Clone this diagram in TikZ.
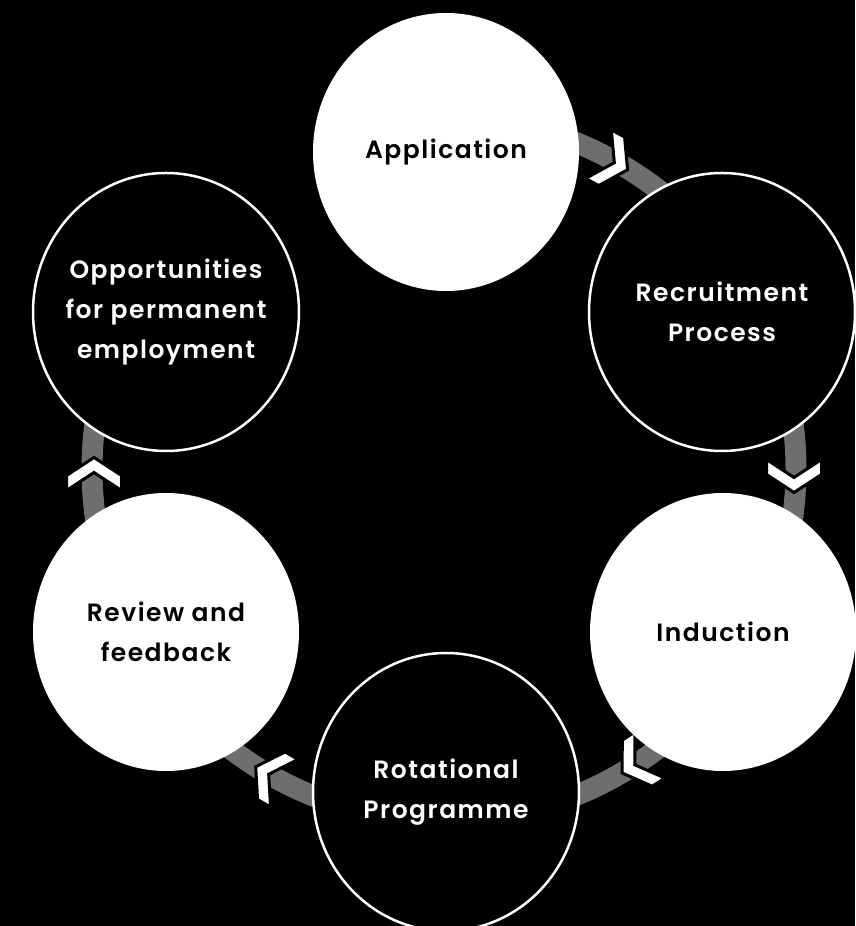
\documentclass[tikz,border=0pt]{standalone}
\usepackage{fontspec}
\setmainfont{Poppins}[BoldFont={* SemiBold}, LetterSpace=6]
\usetikzlibrary{shapes.geometric}
\definecolor{ringgray}{HTML}{6E6E6E}
\tikzset{pics/chevron/.style={code={\filldraw[chev] (-16.5,-27.5) -- (1.5,0) -- (-16.5,27.5) -- (-1.5,27.5) -- (16.5,0) -- (-1.5,-27.5) -- cycle;}}}
\begin{document}
\begin{tikzpicture}[x=1pt,y=1pt,
  bub/.style={ellipse, minimum width=266pt, minimum height=278pt, inner sep=-40pt, align=center, font=\fontsize{25}{40}\selectfont\bfseries},
  wbub/.style={bub, fill=white, text=black},
  kbub/.style={bub, fill=black, draw=white, line width=2.5pt, text=white},
  ring/.style={draw=ringgray, line width=21pt},
  chev/.style={fill=white, draw=black, line width=3pt, line join=miter}]
\fill[black] (0,0) rectangle (855,926);
\useasboundingbox (0,0) rectangle (855,926);
\coordinate (rc) at (444,457);
\draw[ring] (rc) ++(90:352) arc[start angle=90, end angle=-210, radius=352];
\pic[rotate=-28] at (613,764) {chevron};
\pic[rotate=-90] at (794,450) {chevron};
\pic[rotate=-147] at (636,162) {chevron};
\pic[rotate=150] at (270,151) {chevron};
\pic[rotate=90] at (94,452) {chevron};
\node[wbub] (app) at (446,774) {Application};
\node[kbub] (rec) at (722,614) {Recruitment\\Process};
\node[wbub] (ind) at (723,294) {Induction};
\node[kbub] (rot) at (446,134) {Rotational\\Programme};
\node[wbub] (rev) at (166,294) {Review and\\feedback};
\node[kbub] (opp) at (166,614) {Opportunities\\for permanent\\employment};
\end{tikzpicture}
\end{document}
